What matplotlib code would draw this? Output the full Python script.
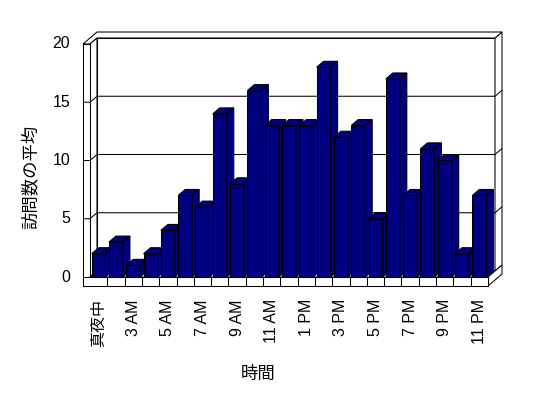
import matplotlib
matplotlib.use("Agg")
import matplotlib.pyplot as plt
from matplotlib.patches import Polygon, Rectangle

plt.rcParams['font.family'] = ['Liberation Sans', 'Noto Sans CJK JP']

# data
hours = ['真夜中', '2 AM', '3 AM', '4 AM', '5 AM', '6 AM', '7 AM', '8 AM', '9 AM', '10 AM',
         '11 AM', '正午', '1 PM', '2 PM', '3 PM', '4 PM', '5 PM', '6 PM', '7 PM', '8 PM',
         '9 PM', '10 PM', '11 PM']
visits = [2, 3, 1, 2, 4, 7, 6, 14, 8, 16, 13, 13, 13, 18, 12, 13, 5, 17, 7, 11, 10, 2, 7]
yticks = [0, 5, 10, 15, 20]
xlabel = '時間'
ylabel = '訪問数の平均'

W, H = 548, 398
fig = plt.figure(figsize=(W / 100, H / 100), dpi=100)
# front plane of the 3d box in pixels
pl, pr, pb, pt = 90, 488, 277, 44
ax = fig.add_axes([pl / W, 1 - pb / H, (pr - pl) / W, (pb - pt) / H])
n = len(visits)
x0, x1 = -0.5, n - 0.5
ymax = 20
ax.set_xlim(x0, x1)
ax.set_ylim(0, ymax)
ax.axis('off')

sx = (pr - pl) / n        # px per category
sy = (pb - pt) / ymax     # px per unit
ox, oy = 7 / sx, 6 / sy   # depth offset
tw = 7 / sx               # left wall thickness
fl = 9 / sy               # floor thickness
lw = 0.75
navy = '#000080'


def poly(pts, z, fc='white'):
    ax.add_patch(Polygon(pts, closed=True, fc=fc, ec='black', lw=lw, zorder=z, clip_on=False))


def line(xs, ys, z=2):
    ax.plot(xs, ys, color='black', lw=lw, zorder=z, clip_on=False, solid_capstyle='butt')


# back wall face
poly([(x0 + ox, oy), (x1 + ox, oy), (x1 + ox, ymax + oy), (x0 + ox, ymax + oy)], 1)
# back wall right side
poly([(x1 + ox, oy), (x1 + ox, ymax + oy), (x1 + 2 * ox, ymax + 2 * oy), (x1 + 2 * ox, 2 * oy)], 1)
# tops of walls
poly([(x0 - tw, ymax), (x0, ymax), (x0 + ox, ymax + oy), (x1 + ox, ymax + oy),
      (x1 + 2 * ox, ymax + 2 * oy), (x0 - tw + 2 * ox, ymax + 2 * oy)], 1)
# left wall inner face and front
poly([(x0, 0), (x0, ymax), (x0 + ox, ymax + oy), (x0 + ox, oy)], 1)
poly([(x0 - tw, -fl), (x0, -fl), (x0, ymax), (x0 - tw, ymax)], 1)
# floor
poly([(x0, 0), (x1, 0), (x1 + ox, oy), (x0 + ox, oy)], 1)
poly([(x1, -fl), (x1, 0), (x1 + 2 * ox, 2 * oy), (x1 + 2 * ox, -fl + 2 * oy)], 1)
poly([(x0 - tw, -fl), (x1, -fl), (x1, 0), (x0 - tw, 0)], 1)
for i in range(n - 1):
    line([i + 0.5, i + 0.5], [-fl, 0])

# gridlines
for v in yticks[1:-1]:
    line([x0 - tw, x0, x0 + ox, x1 + ox, x1 + 2 * ox], [v, v, v + oy, v + oy, v + 2 * oy])

# bars
hw = 7 / sx
for i, v in enumerate(visits):
    z = 3 + i
    ax.add_patch(Rectangle((i - hw, 0), 2 * hw, v, fc=navy, ec='black', lw=lw, zorder=z, clip_on=False))
    poly([(i - hw, v), (i + hw, v), (i + hw + ox, v + oy), (i - hw + ox, v + oy)], z, navy)
    poly([(i + hw, 0), (i + hw, v), (i + hw + ox, v + oy), (i + hw + ox, oy)], z, navy)

# value labels
for v in yticks:
    ax.text(x0 - 20 / sx, v, str(v), ha='right', va='center', fontsize=11.5)

# category labels, every other one
for i in range(0, n, 2):
    ax.text(i, -22 / sy, hours[i], rotation=90, ha='center', va='top', fontsize=11.5)

fig.text(258 / W, 1 - 374 / H, xlabel, ha='center', va='center', fontsize=12.5)
fig.text(30 / W, 1 - 177 / H, ylabel, ha='center', va='center', rotation=90, fontsize=12.5)

fig.savefig('out.png', dpi=100, facecolor='white')
